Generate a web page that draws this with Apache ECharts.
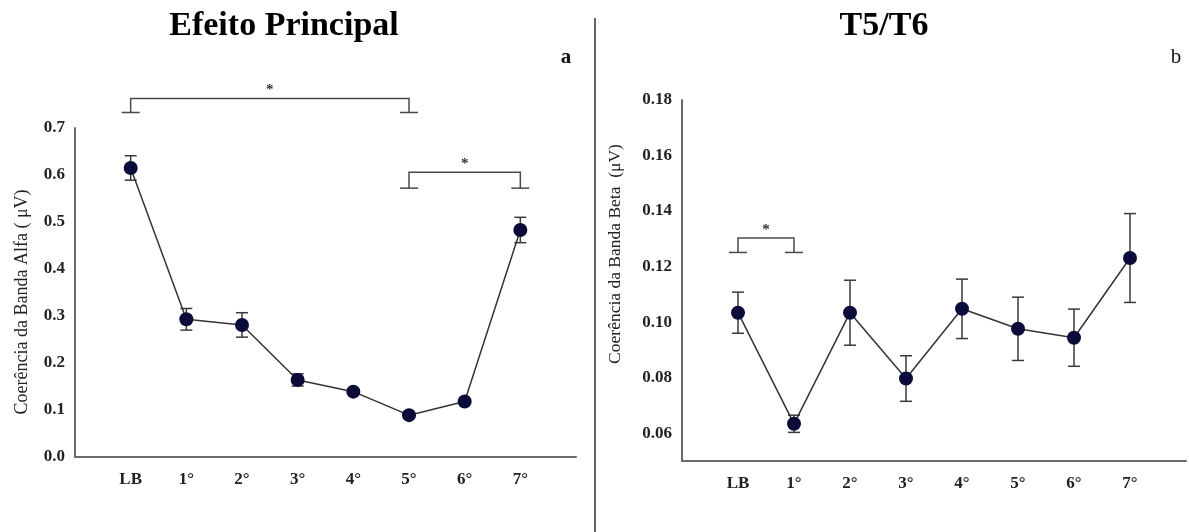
<!DOCTYPE html>
<html>
<head>
<meta charset="utf-8">
<script src="https://cdn.jsdelivr.net/npm/echarts@6/dist/echarts.min.js"></script>
<style>
html,body{margin:0;padding:0;background:#fff;}
#chart{width:1189px;height:532px;}
</style>
</head>
<body>
<div id="chart"></div>
<script>
// ---- data ----
const categories = ['LB', '1°', '2°', '3°', '4°', '5°', '6°', '7°'];
const alphaMean = [0.615, 0.293, 0.281, 0.164, 0.139, 0.089, 0.118, 0.483];
const alphaErr  = [0.026, 0.023, 0.026, 0.013, 0.006, 0.005, 0.005, 0.027];
const betaMean  = [0.1034, 0.0634, 0.1034, 0.0797, 0.1048, 0.0976, 0.0944, 0.1231];
const betaErr   = [0.0074, 0.0031, 0.0117, 0.0082, 0.0107, 0.0114, 0.0103, 0.0160];
const alphaTicks = [0, 0.1, 0.2, 0.3, 0.4, 0.5, 0.6, 0.7];
const betaTicks = [0.06, 0.08, 0.10, 0.12, 0.14, 0.16, 0.18];
// brackets: [fromIndex, toIndex, topValue, footValue]
const alphaBrackets = [[0, 5, 0.763, 0.733], [5, 7, 0.606, 0.572]];
const betaBrackets = [[0, 1, 0.1303, 0.1251]];
const titles = ['Efeito Principal', 'T5/T6'];
const panelLetters = ['a', 'b'];
const yNames = ['Coerência da Banda Alfa ( μV)', 'Coerência da Banda Beta  (μV)'];

// ---- styles ----
const FONT = '"Liberation Serif", "Times New Roman", serif';
const AXIS_COLOR = '#6a6a6a';
const LINE_COLOR = '#333';
const DOT_COLOR = '#0b0b3a';
const ERR_COLOR = '#3a3a3a';
const BRACKET_COLOR = '#4a4a4a';

const pts = (arr) => arr.map((v, i) => [i, v]);
const errData = (m, e) => m.map((v, i) => [i, v, e[i]]);

function errorItem(params, api) {
  const x = api.value(0), m = api.value(1), e = api.value(2);
  const t = api.coord([x, m + e]);
  const b = api.coord([x, m - e]);
  const w = 6;
  const st = {stroke: ERR_COLOR, lineWidth: 1.5};
  return {type: 'group', children: [
    {type: 'line', shape: {x1: t[0], y1: t[1], x2: b[0], y2: b[1]}, style: st},
    {type: 'line', shape: {x1: t[0] - w, y1: t[1], x2: t[0] + w, y2: t[1]}, style: st},
    {type: 'line', shape: {x1: b[0] - w, y1: b[1], x2: b[0] + w, y2: b[1]}, style: st}
  ]};
}

function bracketItem(params, api) {
  const a = api.value(0), b = api.value(1), top = api.value(2), foot = api.value(3);
  const p1 = api.coord([a, top]), p2 = api.coord([b, top]);
  const f1 = api.coord([a, foot]), f2 = api.coord([b, foot]);
  const w = 9;
  const st = {stroke: BRACKET_COLOR, lineWidth: 1.5, fill: null};
  return {type: 'group', children: [
    {type: 'polyline', shape: {points: [f1, p1, p2, f2]}, style: st},
    {type: 'line', shape: {x1: f1[0] - w, y1: f1[1], x2: f1[0] + w, y2: f1[1]}, style: st},
    {type: 'line', shape: {x1: f2[0] - w, y1: f2[1], x2: f2[0] + w, y2: f2[1]}, style: st},
    {type: 'text', style: {text: '*', x: (p1[0] + p2[0]) / 2, y: p1[1] - 8, align: 'center', verticalAlign: 'middle',
      font: 'bold 15px ' + FONT, fill: '#333'}}
  ]};
}

function xAxisDef(gi) {
  return {
    type: 'value', gridIndex: gi, min: -1, max: 8, interval: 1,
    axisLine: {show: true, onZero: false, lineStyle: {color: AXIS_COLOR, width: 2}},
    axisTick: {show: false}, splitLine: {show: false},
    axisLabel: {
      formatter: (v) => categories[v] !== undefined ? categories[v] : '',
      fontFamily: FONT, fontWeight: 'bold', fontSize: 17, color: '#222', margin: 14
    }
  };
}

const chart = echarts.init(document.getElementById('chart'), null, {renderer: 'canvas'});
chart.setOption({
  animation: false,
  backgroundColor: '#fff',
  grid: [
    {left: 75, top: 128, width: 501, height: 329},
    {left: 682, top: 100, right: 1, bottom: 71}
  ],
  xAxis: [xAxisDef(0), xAxisDef(1)],
  yAxis: [
    {
      type: 'value', gridIndex: 0, min: alphaTicks[0], max: alphaTicks[alphaTicks.length - 1], interval: 0.1,
      axisLine: {show: true, onZero: false, lineStyle: {color: AXIS_COLOR, width: 2}},
      axisTick: {show: false}, splitLine: {show: false},
      axisLabel: {formatter: (v) => v.toFixed(1), fontFamily: FONT, fontWeight: 'bold', fontSize: 17, color: '#222', margin: 10}
    },
    {
      type: 'value', gridIndex: 1, min: 0.05, max: betaTicks[betaTicks.length - 1], interval: 0.01,
      axisLine: {show: true, onZero: false, lineStyle: {color: AXIS_COLOR, width: 2}},
      axisTick: {show: false}, splitLine: {show: false},
      axisLabel: {
        formatter: (v) => {
          const hit = betaTicks.find(t => Math.abs(t - v) < 1e-6);
          return hit !== undefined ? hit.toFixed(2) : '';
        },
        fontFamily: FONT, fontWeight: 'bold', fontSize: 17, color: '#222', margin: 10
      }
    }
  ],
  graphic: [
    {type: 'line', shape: {x1: 595, y1: 18, x2: 595, y2: 532}, style: {stroke: '#333', lineWidth: 1.5}},
    {type: 'text', x: 284, y: 26, style: {text: titles[0], align: 'center', verticalAlign: 'middle', font: 'bold 34px ' + FONT, fill: '#000'}},
    {type: 'text', x: 884, y: 26, style: {text: titles[1], align: 'center', verticalAlign: 'middle', font: 'bold 34px ' + FONT, fill: '#000'}},
    {type: 'text', x: 566, y: 58, style: {text: panelLetters[0], align: 'center', verticalAlign: 'middle', font: 'bold 21px ' + FONT, fill: '#111'}},
    {type: 'text', x: 1176, y: 57, style: {text: panelLetters[1], align: 'center', verticalAlign: 'middle', font: '21px ' + FONT, fill: '#111'}},
    {type: 'text', x: 22, y: 302, rotation: Math.PI / 2, style: {text: yNames[0], align: 'center', verticalAlign: 'middle', font: '18px ' + FONT, fill: '#222'}},
    {type: 'text', x: 615, y: 254, rotation: Math.PI / 2, style: {text: yNames[1], align: 'center', verticalAlign: 'middle', font: '17.5px ' + FONT, fill: '#222'}}
  ],
  series: [
    {type: 'custom', xAxisIndex: 0, yAxisIndex: 0, data: errData(alphaMean, alphaErr), renderItem: errorItem, encode: {x: 0, y: 1}, z: 1, clip: false},
    {type: 'line', xAxisIndex: 0, yAxisIndex: 0, data: pts(alphaMean), symbol: 'circle', symbolSize: 14,
      itemStyle: {color: DOT_COLOR}, lineStyle: {color: LINE_COLOR, width: 1.5}, z: 3},
    {type: 'custom', xAxisIndex: 0, yAxisIndex: 0, data: alphaBrackets, renderItem: bracketItem, encode: {x: [0, 1], y: [2, 3]}, clip: false, z: 2},
    {type: 'custom', xAxisIndex: 1, yAxisIndex: 1, data: errData(betaMean, betaErr), renderItem: errorItem, encode: {x: 0, y: 1}, z: 1, clip: false},
    {type: 'line', xAxisIndex: 1, yAxisIndex: 1, data: pts(betaMean), symbol: 'circle', symbolSize: 14,
      itemStyle: {color: DOT_COLOR}, lineStyle: {color: LINE_COLOR, width: 1.5}, z: 3},
    {type: 'custom', xAxisIndex: 1, yAxisIndex: 1, data: betaBrackets, renderItem: bracketItem, encode: {x: [0, 1], y: [2, 3]}, clip: false, z: 2}
  ]
});
</script>
</body>
</html>
